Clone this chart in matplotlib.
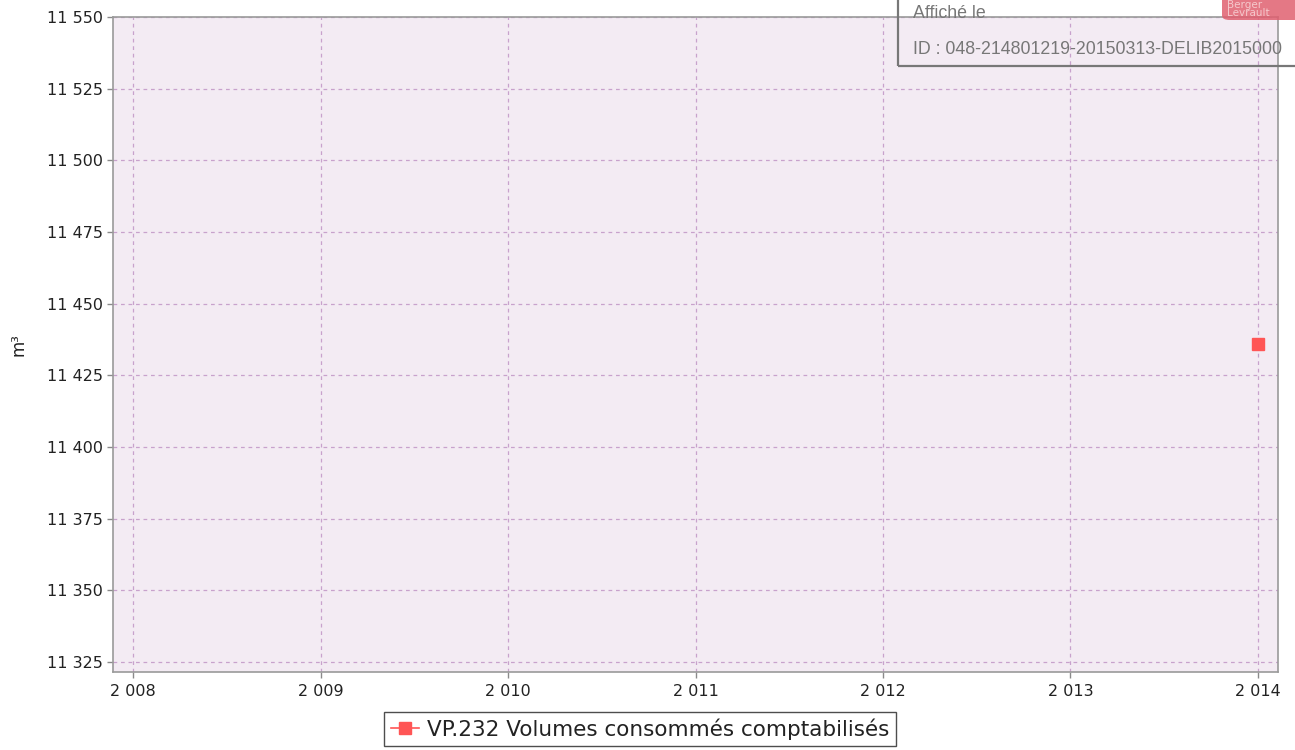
import matplotlib
matplotlib.use("Agg")
import matplotlib.pyplot as plt
from matplotlib.ticker import FuncFormatter, MultipleLocator
from matplotlib.lines import Line2D
from matplotlib.patches import Rectangle, FancyBboxPatch

plt.rcParams["font.family"] = ["DejaVu Sans"]

years = [2014]
values = [11436]
series_name = "VP.232 Volumes consommés comptabilisés"
y_label = "m³"
stamp_line1 = "Affiché le"
stamp_line2 = "ID : 048-214801219-20150313-DELIB2015000"
logo_text = "Berger\nLevrault"

W, H = 1295, 750
fig = plt.figure(figsize=(W / 100, H / 100), dpi=100)
fig.patch.set_facecolor("white")

ax = fig.add_axes([113 / W, 78 / H, 1165 / W, 655 / H])
ax.set_facecolor("#f3ebf3")

ax.plot(years, values, linestyle="none", marker="s", markersize=8.5,
        color="#ff5555", markeredgecolor="#ff5555", zorder=5, clip_on=False)

ax.set_xlim(2007.893, 2014.107)
ax.set_ylim(11321.5, 11550)
ax.xaxis.set_major_locator(MultipleLocator(1))
ax.yaxis.set_major_locator(MultipleLocator(25))
fmt = FuncFormatter(lambda v, p: f"{int(round(v)):,}".replace(",", " "))
ax.xaxis.set_major_formatter(fmt)
ax.yaxis.set_major_formatter(fmt)

ax.grid(True, color="#c8a2cc", linestyle=(0, (3, 3)), linewidth=0.9)
ax.set_axisbelow(True)
for s in ax.spines.values():
    s.set_color("#9a9a9a")
    s.set_linewidth(1.2)
ax.tick_params(axis="both", colors="#8a8a8a", length=4, width=1,
               labelcolor="#222222", labelsize=11.5)
ax.tick_params(axis="x", pad=5)
ax.tick_params(axis="y", pad=3)

ax.set_ylabel(y_label, fontsize=12, color="#222222", labelpad=14)

handle = Line2D([0], [0], color="#ff5555", marker="s", markersize=8.5, linewidth=1.2)
leg = fig.legend([handle], [series_name], loc="center",
                 bbox_to_anchor=(640 / W, 1 - 729 / H), fontsize=15.5,
                 frameon=True, fancybox=False, handlelength=1.3,
                 handletextpad=0.4, borderpad=0.3, borderaxespad=0)
leg.get_frame().set_edgecolor("#222222")
leg.get_frame().set_linewidth(1.0)
for t in leg.get_texts():
    t.set_color("#222222")

# stamp overlay (top-right)
fig.add_artist(Rectangle((898 / W, 1 - 66 / H), (W - 898 + 10) / W, 80 / H,
                         transform=fig.transFigure, facecolor="none",
                         edgecolor="#777777", linewidth=1.6, zorder=10))
fig.text(913 / W, 1 - 14 / H, stamp_line1, fontsize=12.8, color="#777777",
         family="Liberation Sans", va="center", ha="left", zorder=11)
fig.text(913 / W, 1 - 49 / H, stamp_line2, fontsize=12.8, color="#777777",
         family="Liberation Sans", va="center", ha="left", zorder=11)
fig.add_artist(FancyBboxPatch((1222 / W, 1 - 20 / H), 80 / W, 26 / H,
                              boxstyle="round,pad=0,rounding_size=0.006",
                              transform=fig.transFigure, facecolor="#e06070",
                              edgecolor="none", alpha=0.85, zorder=10))
fig.text(1227 / W, 1 - 9 / H, logo_text, fontsize=7.5, color="#f5c8cc",
         va="center", ha="left", linespacing=0.8, zorder=11)

fig.savefig("out.png", dpi=100)
